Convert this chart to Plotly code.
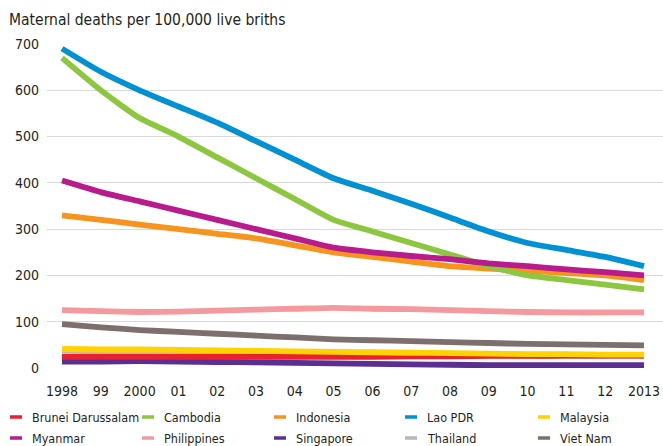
import plotly.graph_objects as go

years = list(range(1998, 2014))
year_labels = ["1998", "99", "2000", "01", "02", "03", "04", "05", "06", "07", "08", "09", "10", "11", "12", "2013"]

brunei = [24, 24, 24, 24, 24, 24, 24, 24, 24, 25, 25, 26, 26, 27, 27, 27]
cambodia = [670, 600, 540, 500, 455, 410, 365, 320, 295, 270, 245, 220, 200, 190, 180, 170]
indonesia = [330, 320, 310, 300, 290, 280, 265, 250, 240, 230, 220, 215, 210, 205, 200, 190]
lao = [690, 640, 600, 565, 530, 490, 450, 410, 383, 355, 325, 295, 270, 255, 240, 220]
malaysia = [41, 40, 40, 39, 38, 37, 36, 35, 34, 33, 32, 31, 30, 30, 29, 29]
myanmar = [405, 380, 360, 340, 320, 300, 280, 260, 250, 242, 235, 226, 220, 213, 207, 200]
philippines = [125, 123, 121, 122, 124, 126, 128, 130, 128, 127, 125, 123, 121, 120, 120, 120]
singapore = [14, 14, 15, 14, 13, 12, 11, 10, 9, 8, 7, 6, 6, 6, 6, 6]
thailand = [37, 36, 35, 34, 33, 32, 31, 30, 29, 28, 28, 27, 27, 26, 26, 26]
vietnam = [95, 88, 82, 78, 74, 70, 66, 62, 60, 58, 56, 54, 52, 51, 50, 49]

legend_names = ["Brunei Darussalam", "Cambodia", "Indonesia", "Lao PDR", "Malaysia",
                "Myanmar", "Philippines", "Singapore", "Thailand", "Viet Nam"]
series = {
    "Brunei Darussalam": brunei, "Cambodia": cambodia, "Indonesia": indonesia,
    "Lao PDR": lao, "Malaysia": malaysia, "Myanmar": myanmar,
    "Philippines": philippines, "Singapore": singapore, "Thailand": thailand,
    "Viet Nam": vietnam,
}
colors = {
    "Brunei Darussalam": "#e8202f", "Cambodia": "#8dc63f", "Indonesia": "#f7941d",
    "Lao PDR": "#0090d4", "Malaysia": "#ffd200", "Myanmar": "#b81b8c",
    "Philippines": "#f4999e", "Singapore": "#5b2e8f", "Thailand": "#bdb5b0",
    "Viet Nam": "#7d6f6c",
}
draw_order = ["Thailand", "Singapore", "Brunei Darussalam", "Malaysia", "Viet Nam",
              "Philippines", "Indonesia", "Cambodia", "Myanmar", "Lao PDR"]

FONT = "DejaVu Sans Condensed, DejaVu Sans, sans-serif"
TXT = "#231f20"

W, H = 663, 446
PL, PR, PT, PB = 47, 663, 44, 368   # plot area in pixels
L, R, T, B = PL, W - PR, PT, H - PB

fig = go.Figure()
for name in draw_order:
    fig.add_trace(go.Scatter(
        x=years, y=series[name], mode="lines", name=name,
        line=dict(color=colors[name], width=5.8, shape="spline", smoothing=0.5),
        showlegend=False, hoverinfo="skip",
    ))

def sx(px):
    return (px - PL) / (PR - PL)

def sy(py):
    return (PB - py) / (PB - PT)

shapes = []
annotations = []
col_x = [10, 142, 274, 405, 538]
row_y = [417, 438]
for i, name in enumerate(legend_names):
    r, c = divmod(i, 5)
    x0 = col_x[c]
    y0 = row_y[r]
    shapes.append(dict(type="line", xref="paper", yref="paper",
                       x0=sx(x0), x1=sx(x0 + 12), y0=sy(y0), y1=sy(y0),
                       line=dict(color=colors[name], width=3.5)))
    annotations.append(dict(text=name, xref="paper", yref="paper",
                            x=sx(x0 + 20), y=sy(y0), xanchor="left", yanchor="middle",
                            showarrow=False, font=dict(family=FONT, size=12.5, color=TXT)))

annotations.append(dict(text="Maternal deaths per 100,000 live briths", xref="paper", yref="paper",
                        x=sx(7), y=sy(20), xanchor="left", yanchor="middle",
                        showarrow=False, font=dict(family=FONT, size=15.5, color=TXT)))

fig.update_layout(
    width=W, height=H,
    margin=dict(l=L, r=R, t=T, b=B, pad=0, autoexpand=False),
    paper_bgcolor="white", plot_bgcolor="white",
    font=dict(family=FONT, size=14, color=TXT),
    shapes=shapes, annotations=annotations,
    xaxis=dict(range=[1997.613, 2013.49], tickvals=years, ticktext=year_labels,
               showgrid=False, zeroline=False, showline=False, ticks="",
               ticklabelstandoff=13, tickfont=dict(size=14), automargin=False),
    yaxis=dict(range=[0, 700], tickvals=[0, 100, 200, 300, 400, 500, 600, 700],
               showgrid=True, gridcolor="#d9d9d9", gridwidth=1, zeroline=False,
               showline=False, ticks="", ticklabelstandoff=7, tickfont=dict(size=14),
               automargin=False),
)

fig.write_html("out.html", config={"displayModeBar": False},
               post_script="document.body.style.margin='0';document.body.style.overflow='hidden';")
